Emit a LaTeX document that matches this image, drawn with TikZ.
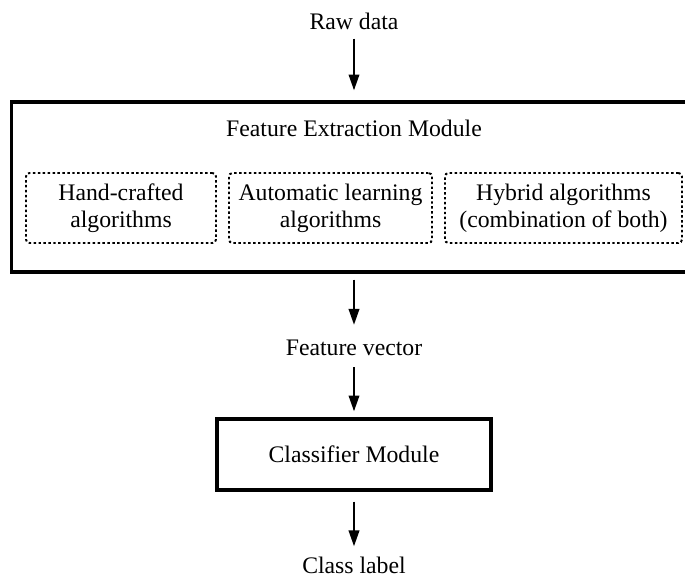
\documentclass[tikz,border=0pt]{standalone}
\usepackage{fontspec}
\setmainfont{Liberation Serif}
\usetikzlibrary{arrows.meta}

\tikzset{
	lbl/.style={font=\fontsize{13.5}{15.5}\selectfont, align=center, inner sep=0pt},
	module/.style={draw, line width=1.9pt, inner sep=0pt},
	algbox/.style={lbl, draw, line width=1.1pt, dash pattern=on 1.4pt off 1.4pt, rounded corners=2pt, minimum height=1.4cm},
	flow/.style={-{Triangle[length=9pt,width=6pt]}, line width=1.1pt},
}

\begin{document}
\begin{tikzpicture}
		%%%%% START %%%%%
		\clip (0, 0) rectangle (13.7, -11.52);
		
		\node[lbl] (raw) at (7.08, -0.42) {Raw data};
		
		\node[module, minimum width=13.7cm, minimum height=3.4cm] (fem) at (7.08, -3.74) {};
		\node[lbl] (femtitle) at (7.08, -2.56) {Feature Extraction Module};
		
		\node[algbox, minimum width=3.8cm] (hand) at (2.42, -4.16) {Hand-crafted\\algorithms};
		\node[algbox, minimum width=4.06cm] (auto) at (6.61, -4.16) {Automatic learning\\algorithms};
		\node[algbox, minimum width=4.74cm] (hyb) at (11.27, -4.16) {Hybrid algorithms\\(combination of both)};
		
		\node[lbl] (fvec) at (7.08, -6.96) {Feature vector};
		
		\node[module, lbl, line width=1.9pt, draw, minimum width=5.48cm, minimum height=1.42cm] (cls) at (7.08, -9.09) {Classifier Module};
		
		\node[lbl] (clab) at (7.08, -11.3) {Class label};
		
		\draw[flow, shorten <=0.18cm, shorten >=0.2cm] (raw) -- (fem);
		\draw[flow, shorten <=0.12cm, shorten >=0.3cm] (fem) -- (fvec);
		\draw[flow, shorten <=0.22cm, shorten >=0.12cm] (fvec) -- (cls);
		\draw[flow, shorten <=0.2cm, shorten >=0.2cm] (cls) -- (clab);
		
		%%%%% END %%%%%
	\end{tikzpicture}
\end{document}
